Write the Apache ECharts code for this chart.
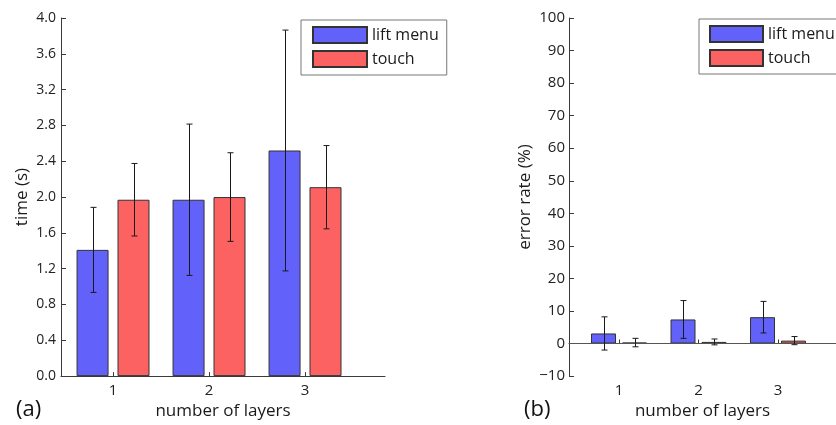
<!DOCTYPE html>
<html>
<head>
<meta charset="utf-8">
<script src="https://cdn.jsdelivr.net/npm/echarts@6/dist/echarts.min.js"></script>
<style>html,body{margin:0;padding:0;background:#fff}#c{width:836px;height:425px}</style>
</head>
<body>
<div id="c"></div>
<script>
// ---- data ----
var layers = [1, 2, 3];
var seriesNames = ['lift menu', 'touch'];
// (a) completion time (s)
var timeLift = [1.41, 1.97, 2.52];
var timeLiftErr = [0.475, 0.845, 1.345];
var timeTouch = [1.97, 2.00, 2.11];
var timeTouchErr = [0.405, 0.495, 0.465];
var timeTicks = [0, 0.4, 0.8, 1.2, 1.6, 2.0, 2.4, 2.8, 3.2, 3.6, 4.0];
// (b) error rate (%)
var errLift = [3.1, 7.4, 8.1];
var errLiftErr = [5.1, 5.8, 4.85];
var errTouch = [0.3, 0.5, 0.9];
var errTouchErr = [1.3, 0.9, 1.25];
var errTicks = [-10, 0, 10, 20, 30, 40, 50, 60, 70, 80, 90, 100];

var BLUE = '#6262fb', RED = '#fd6262', AX = '#3a3a3a';
var FONT = 'Open Sans';

function pairs(v) { return layers.map(function (x, i) { return [x, v[i]]; }); }
function errData(v, e) { return layers.map(function (x, i) { return [x, v[i] - e[i], v[i] + e[i]]; }); }

function errSeries(xi, v, e, offPx) {
  return {
    type: 'custom', xAxisIndex: xi, yAxisIndex: xi, z: 5, silent: true,
    data: errData(v, e),
    renderItem: function (params, api) {
      var lo = api.coord([api.value(0), api.value(1)]);
      var hi = api.coord([api.value(0), api.value(2)]);
      var x = Math.round(lo[0] + offPx) + 0.5;
      var cap = 3;
      var st = { stroke: '#1a1a1a', lineWidth: 1 };
      return { type: 'group', children: [
        { type: 'line', shape: { x1: x, y1: lo[1], x2: x, y2: hi[1] }, style: st },
        { type: 'line', shape: { x1: x - cap, y1: hi[1], x2: x + cap, y2: hi[1] }, style: st },
        { type: 'line', shape: { x1: x - cap, y1: lo[1], x2: x + cap, y2: lo[1] }, style: st }
      ]};
    }
  };
}

function barSeries(xi, name, v, color, w, gap, extra) {
  var s = {
    type: 'bar', name: name, xAxisIndex: xi, yAxisIndex: xi,
    data: pairs(v), barWidth: w, barGap: gap,
    itemStyle: { color: color, borderColor: '#333', borderWidth: 1 },
    emphasis: { disabled: true }
  };
  if (extra) for (var k in extra) s[k] = extra[k];
  return s;
}

function xAxisCfg(gi, min, max) {
  return {
    type: 'value', gridIndex: gi, min: min, max: max,
    axisLine: { show: true, lineStyle: { color: AX, width: 1 } },
    axisTick: { show: true, inside: true, length: 4, customValues: layers, lineStyle: { color: AX } },
    axisLabel: { customValues: layers, color: '#222', fontFamily: FONT, fontSize: 15, margin: 7 },
    splitLine: { show: false },
    name: 'number of layers', nameLocation: 'middle', nameGap: 23,
    nameTextStyle: { color: '#1a1a1a', fontFamily: FONT, fontSize: 17, verticalAlign: 'top' }
  };
}

var legendCommon = {
  data: seriesNames, orient: 'vertical', icon: 'rect',
  itemHeight: 16, itemGap: 6, borderColor: '#777', borderWidth: 1,
  textStyle: { color: '#1a1a1a', fontFamily: FONT, fontSize: 16, lineHeight: 16 },
  selectedMode: false
};

var chart = echarts.init(document.getElementById('c'), null, { renderer: 'canvas' });
chart.setOption({
  animation: false,
  backgroundColor: '#fff',
  grid: [
    { left: 61, top: 18, width: 324, height: 362 },
    { left: 569, top: 18, right: 0, height: 363 }
  ],
  xAxis: [
    xAxisCfg(0, 0.458, 3.833),
    xAxisCfg(1, 0.371, 0.371 + 267 / 79.5)
  ],
  yAxis: [
    {
      type: 'value', gridIndex: 0, min: 0, max: 4, interval: 0.4,
      axisLine: { show: true, lineStyle: { color: AX } },
      axisTick: { show: true, inside: true, length: 5, lineStyle: { color: AX } },
      axisLabel: { color: '#222', fontFamily: FONT, fontSize: 14, margin: 5,
        formatter: function (v) { return v.toFixed(1); } },
      splitLine: { show: false },
      name: 'time (s)', nameLocation: 'middle', nameGap: 30,
      nameTextStyle: { color: '#1a1a1a', fontFamily: FONT, fontSize: 17 }
    },
    {
      type: 'value', gridIndex: 1, min: -10, max: 100, interval: 10,
      axisLine: { show: true, lineStyle: { color: AX } },
      axisTick: { show: true, inside: true, length: 5, lineStyle: { color: AX } },
      axisLabel: { color: '#222', fontFamily: FONT, fontSize: 15, margin: 4,
        formatter: function (v) { return String(v).replace('-', '\u2212'); } },
      splitLine: { show: false },
      name: 'error rate (%)', nameLocation: 'middle', nameGap: 35,
      nameTextStyle: { color: '#1a1a1a', fontFamily: FONT, fontSize: 17 }
    }
  ],
  legend: [
    Object.assign({ left: 301, top: 20, itemWidth: 54, padding: [6, 8, 7, 11] }, legendCommon),
    Object.assign({ left: 699, top: 19, itemWidth: 53, padding: [6, 8, 7, 10] }, legendCommon)
  ],
  title: [
    { text: '(a)', left: 16, top: 399, textStyle: { fontFamily: FONT, fontSize: 22, fontWeight: 'normal', color: '#111' }, padding: 0 },
    { text: '(b)', left: 524, top: 399, textStyle: { fontFamily: FONT, fontSize: 22, fontWeight: 'normal', color: '#111' }, padding: 0 }
  ],
  series: [
    barSeries(0, seriesNames[0], timeLift, BLUE, 32, '28%'),
    barSeries(0, seriesNames[1], timeTouch, RED, 32, '28%'),
    errSeries(0, timeLift, timeLiftErr, -20.5),
    errSeries(0, timeTouch, timeTouchErr, 20.5),
    barSeries(1, seriesNames[0], errLift, BLUE, 25, '24%', {
      markLine: { silent: true, symbol: 'none', label: { show: false },
        lineStyle: { color: '#555', type: 'solid', width: 1 },
        data: [{ yAxis: 0 }] }
    }),
    barSeries(1, seriesNames[1], errTouch, RED, 25, '24%'),
    errSeries(1, errLift, errLiftErr, -15.5),
    errSeries(1, errTouch, errTouchErr, 15.5)
  ]
});
</script>
</body>
</html>
